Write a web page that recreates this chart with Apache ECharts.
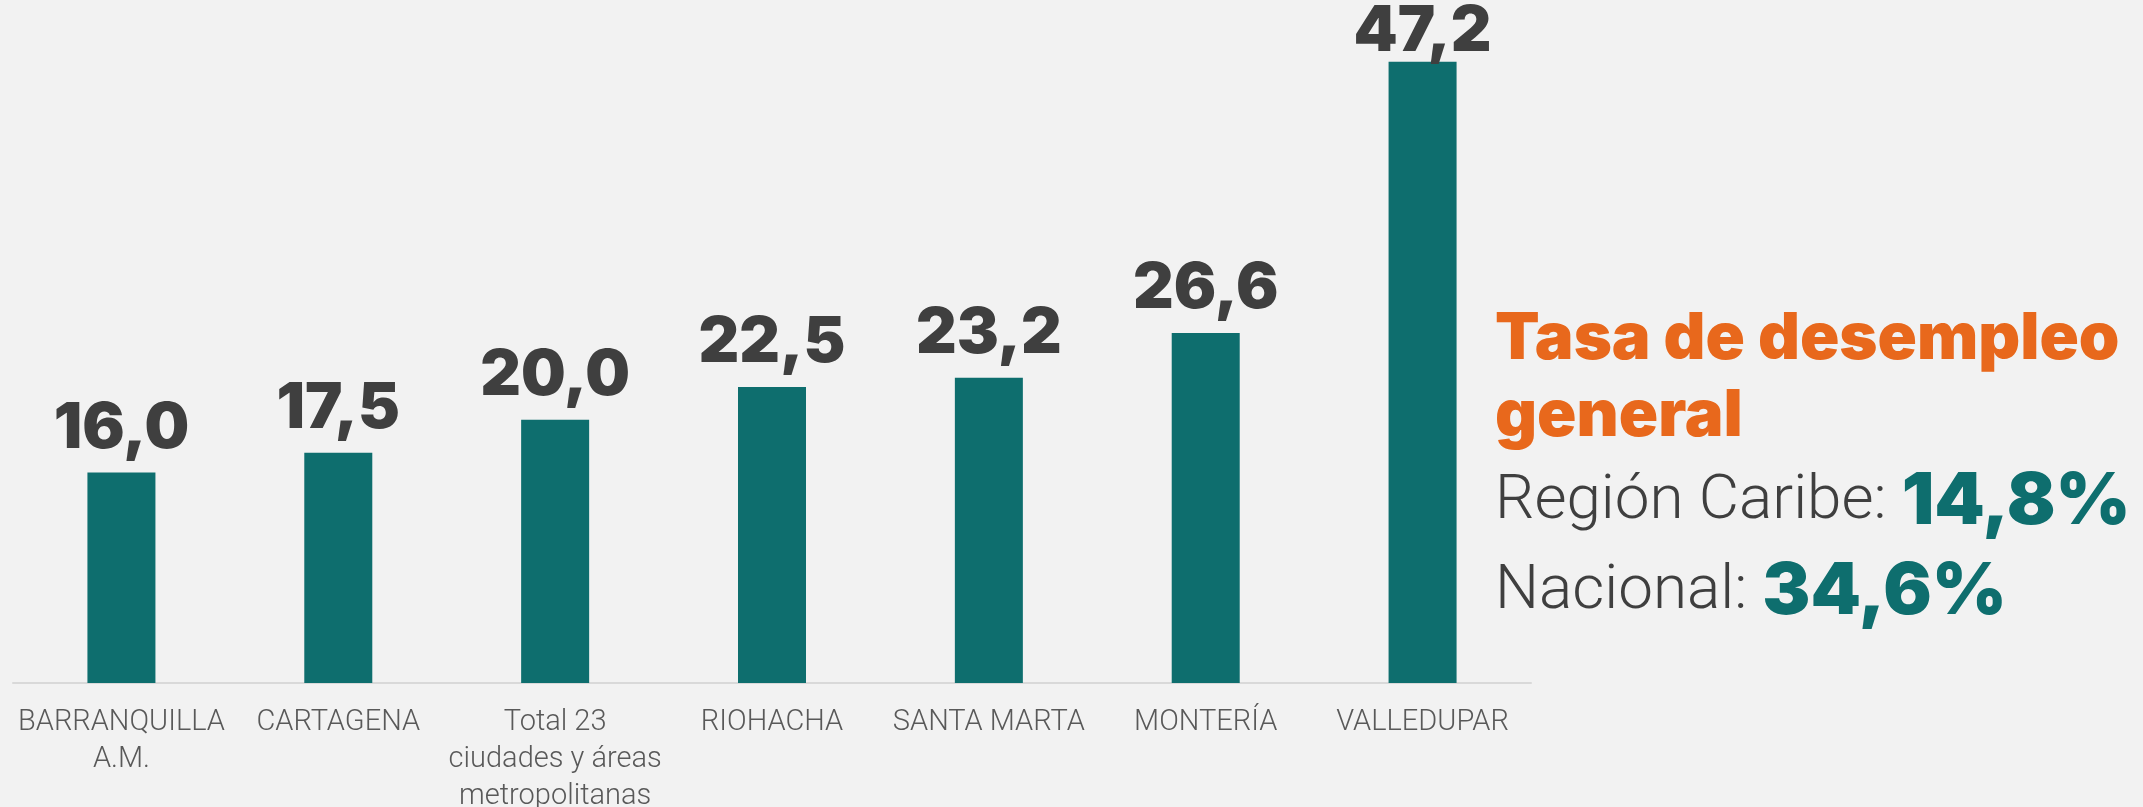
<!DOCTYPE html>
<html>
<head>
<meta charset="utf-8">
<script src="https://cdn.jsdelivr.net/npm/echarts@6/dist/echarts.min.js"></script>
<style>
  html, body { margin: 0; padding: 0; background: #f2f2f2; }
  #chart { width: 2143px; height: 807px; }
</style>
</head>
<body>
<div id="chart"></div>
<script>
// categorías y valores (tasa de desempleo, %)
const ciudades = [
  'BARRANQUILLA\nA.M.',
  'CARTAGENA',
  'Total 23\nciudades y áreas\nmetropolitanas',
  'RIOHACHA',
  'SANTA MARTA',
  'MONTERÍA',
  'VALLEDUPAR'
]
const tasas = [16.0, 17.5, 20.0, 22.5, 23.2, 26.6, 47.2]

// texto lateral
const tituloLineas = ['Tasa de desempleo', 'general']
const regionCaribe = '14,8%'
const nacional = '34,6%'

const TEAL = '#0e6e6e'
const ORANGE = '#e8681c'
const DARK = '#3f3f3f'

const fmt = v => v.toFixed(1).replace('.', ',')

const chart = echarts.init(document.getElementById('chart'), null, { renderer: 'canvas' })

const option = {
  backgroundColor: '#f2f2f2',
  animation: false,
  grid: { left: 13, right: 612, top: 25, bottom: 124, containLabel: false, outerBoundsMode: 'none' },
  xAxis: {
    type: 'category',
    data: ciudades,
    axisLine: { show: true, lineStyle: { color: '#d9d9d9', width: 2 } },
    axisTick: { show: false },
    axisLabel: {
      interval: 0,
      margin: 21,
      color: '#595959',
      fontFamily: 'Roboto',
      fontWeight: 300,
      fontSize: 29,
      lineHeight: 37
    }
  },
  yAxis: {
    type: 'value',
    min: 0,
    max: 50,
    show: false,
    splitLine: { show: false }
  },
  series: [
    {
      type: 'bar',
      barWidth: 68,
      itemStyle: { color: TEAL },
      // la barra más alta lleva la etiqueta pegada para no salirse del lienzo
      data: tasas.map(v => v > 40 ? { value: v, label: { distance: -2 } } : v),
      label: {
        show: true,
        position: 'top',
        distance: 12,
        color: DARK,
        fontFamily: 'Inter',
        fontWeight: 900,
        fontSize: 63,
        formatter: p => fmt(p.value)
      }
    }
  ],
  graphic: [
    {
      type: 'text', x: 1495, y: 339,
      style: { text: tituloLineas[0], fill: ORANGE, font: '900 65px Inter', verticalAlign: 'middle' }
    },
    {
      type: 'text', x: 1495, y: 416,
      style: { text: tituloLineas[1], fill: ORANGE, font: '900 65px Inter', verticalAlign: 'middle' }
    },
    {
      type: 'text', x: 1495, y: 502,
      style: {
        text: '{l|Región Caribe: }{b|' + regionCaribe + '}',
        verticalAlign: 'middle',
        rich: {
          l: { fill: DARK, fontFamily: 'Roboto', fontWeight: 300, fontSize: 62 },
          b: { fill: TEAL, fontFamily: 'Inter', fontWeight: 900, fontSize: 72 }
        }
      }
    },
    {
      type: 'text', x: 1495, y: 592,
      style: {
        text: '{l|Nacional: }{b|' + nacional + '}',
        verticalAlign: 'middle',
        rich: {
          l: { fill: DARK, fontFamily: 'Roboto', fontWeight: 300, fontSize: 62 },
          b: { fill: TEAL, fontFamily: 'Inter', fontWeight: 900, fontSize: 72 }
        }
      }
    }
  ]
}

chart.setOption(option)
</script>
</body>
</html>
